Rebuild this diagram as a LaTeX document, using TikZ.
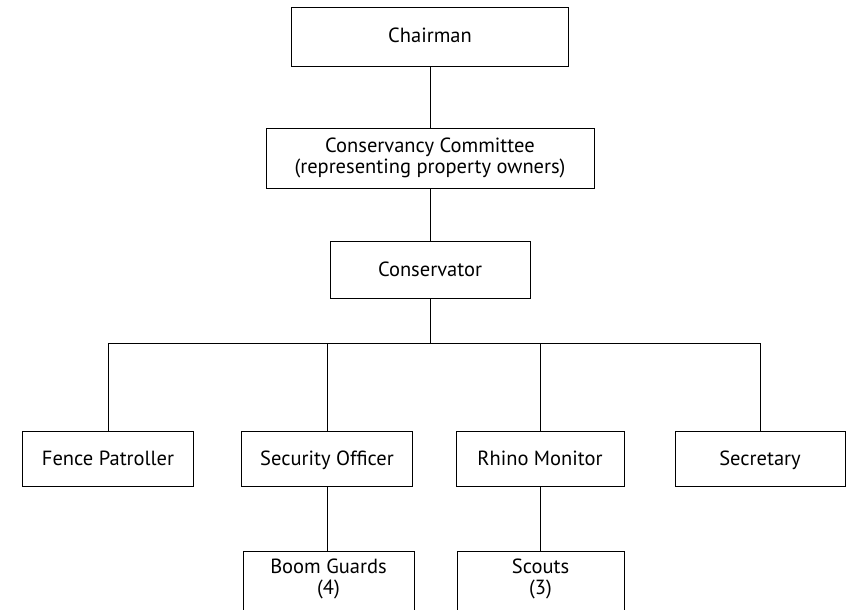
\documentclass[tikz,border=0pt]{standalone}
\usepackage{fontspec}
\setmainfont{PT Sans}
\begin{document}
\begin{tikzpicture}[x=1pt,y=-1pt,
  lbl/.style={align=center, inner sep=0pt, font=\fontsize{20.5}{21}\selectfont},
  box/.style={lbl, draw, line width=0.9pt, rectangle},
  oneline/.style={text height=16.5pt, text depth=3.5pt},
  link/.style={line width=0.8pt}]
  \useasboundingbox (0,0) rectangle (847,610);
  \clip (0,0) rectangle (847,610);

  % top of the hierarchy
  \node[box, oneline, minimum width=277, minimum height=59] (chair) at (430,36.5) {Chairman};
  \node[box, minimum width=328, minimum height=60] (comm) at (430,158)
    {Conservancy Committee\\(representing property owners)};
  \node[box, oneline, minimum width=200, minimum height=57] (cons) at (430,269.5) {Conservator};

  % staff row
  \node[box, oneline, minimum width=171, minimum height=55] (fence) at (108,459) {Fence Patroller};
  \node[box, oneline, minimum width=171, minimum height=55] (sec) at (327,459) {Security Officer};
  \node[box, oneline, minimum width=168, minimum height=55] (rhino) at (540,459) {Rhino Monitor};
  \node[box, oneline, minimum width=170, minimum height=55] (secr) at (760,459) {Secretary};

  % teams (boxes run past the lower edge)
  \node[box, minimum width=171, minimum height=100, anchor=north] (boom) at (328.5,551) {};
  \node[box, minimum width=167, minimum height=100, anchor=north] (scouts) at (540.5,551) {};
  \node[lbl, anchor=north] (boomtxt) at (328.5,559) {Boom Guards\\(4)};
  \node[lbl, anchor=north] (scoutstxt) at (540.5,559) {Scouts\\(3)};

  % connectors
  \coordinate (bar) at (431,343);
  \draw[link] (chair.south) -- (comm.north);
  \draw[link] (comm.south) -- (cons.north);
  \draw[link] (cons.south) -- (cons.south |- bar);
  \draw[link] (fence.north) -- (fence.north |- bar) -- (secr.north |- bar) -- (secr.north);
  \draw[link] (sec.north) -- (sec.north |- bar);
  \draw[link] (rhino.north) -- (rhino.north |- bar);
  \draw[link] (sec.south) -- (sec.south |- boom.north);
  \draw[link] (rhino.south) -- (rhino.south |- scouts.north);
\end{tikzpicture}
\end{document}
